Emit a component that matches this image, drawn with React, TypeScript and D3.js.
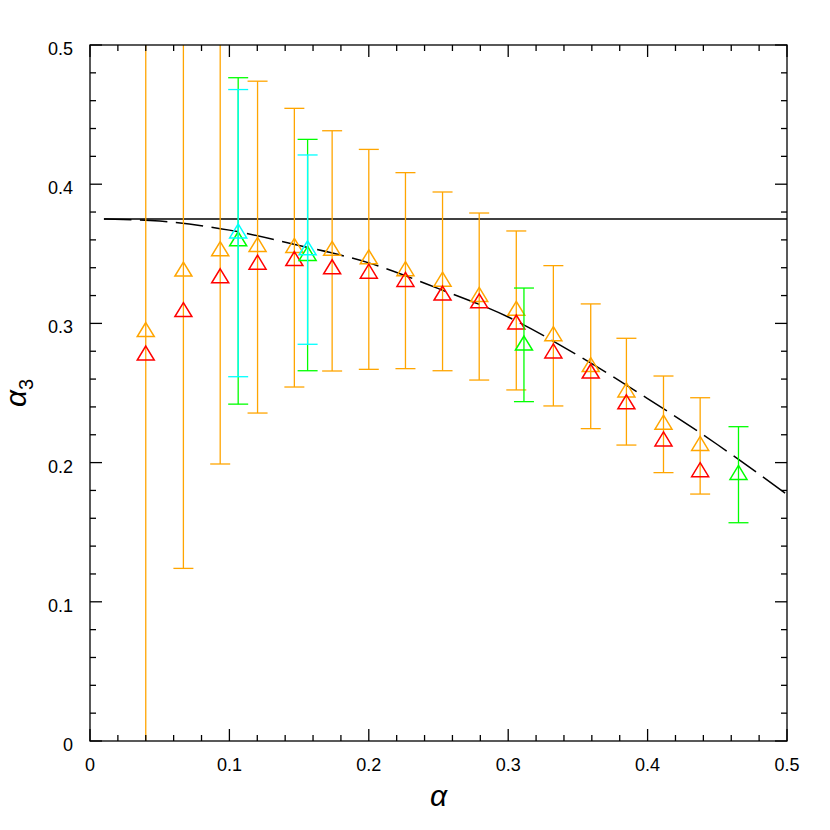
import React from "react";
import * as d3 from "d3";

const orangeX = [0.04, 0.067, 0.0934, 0.1202, 0.1466, 0.1737, 0.2, 0.2263, 0.2529, 0.2792, 0.3058, 0.3324, 0.3592, 0.3848, 0.4114, 0.4377];
const orangeY = [0.2956, 0.339, 0.3537, 0.3567, 0.356, 0.3539, 0.3478, 0.3393, 0.3318, 0.3208, 0.3108, 0.2926, 0.2704, 0.2522, 0.229, 0.2138];
const orangeHi = [0.9, 0.6, 0.55, 0.474, 0.4545, 0.4384, 0.425, 0.4083, 0.3944, 0.3793, 0.3664, 0.3415, 0.314, 0.2893, 0.2622, 0.2466];
const orangeLo = [-0.3, 0.124, 0.199, 0.2356, 0.2543, 0.2658, 0.267, 0.2675, 0.266, 0.2593, 0.2522, 0.2407, 0.2244, 0.2126, 0.1928, 0.1774];

const redY = [0.2787, 0.3099, 0.3342, 0.344, 0.3466, 0.3407, 0.3375, 0.3316, 0.3218, 0.3162, 0.301, 0.2802, 0.2658, 0.2437, 0.217, 0.1949];

const greenX = [0.1063, 0.1561, 0.3113, 0.4652];
const greenY = [0.3608, 0.3503, 0.2859, 0.1929];
const greenHi = [0.4765, 0.4322, 0.3254, 0.2258];
const greenLo = [0.242, 0.266, 0.2438, 0.1568];

const cyanX = [0.1063, 0.1561];
const cyanY = [0.3664, 0.3543];
const cyanHi = [0.468, 0.421];
const cyanLo = [0.2617, 0.285];

const curveX = [0.01, 0.05, 0.1, 0.15, 0.2, 0.25, 0.3, 0.35, 0.4, 0.45, 0.5];
const curveY = [0.375, 0.3735, 0.367, 0.356, 0.3435, 0.325, 0.3046, 0.277, 0.246, 0.213, 0.177];

const flatX = [0.01, 0.5];
const flatY = [0.375, 0.375];

const xTickLabels = ["0", "0.1", "0.2", "0.3", "0.4", "0.5"];
const yTickLabels = ["0", "0.1", "0.2", "0.3", "0.4", "0.5"];

const L = 90, R = 787, T = 45, B = 741;
const FONT = "'Liberation Sans', Arial, Helvetica, sans-serif";

export default function App() {
  const x = d3.scaleLinear().domain([0, 0.5]).range([L, R]);
  const y = d3.scaleLinear().domain([0, 0.5]).range([B, T]);
  const minor = d3.range(0, 0.5001, 0.02);
  const major = d3.range(0, 0.5001, 0.1);

  const line = d3.line<[number, number]>().x(d => x(d[0])).y(d => y(d[1]));
  const curveLine = d3.line<[number, number]>().x(d => x(d[0])).y(d => y(d[1])).curve(d3.curveMonotoneX);

  const tri = (cx: number, cy: number, color: string, key: string) => (
    <path key={key} d={`M${cx},${cy - 7} L${cx + 8.5},${cy + 7} L${cx - 8.5},${cy + 7} Z`} fill="none" stroke={color} strokeWidth={1.5} />
  );
  const errBar = (xv: number, lo: number, hi: number, color: string, key: string) => {
    const cx = x(xv);
    return (
      <g key={key} stroke={color} strokeWidth={1.3}>
        <line x1={cx} x2={cx} y1={y(lo)} y2={y(hi)} />
        <line x1={cx - 10} x2={cx + 10} y1={y(lo)} y2={y(lo)} />
        <line x1={cx - 10} x2={cx + 10} y1={y(hi)} y2={y(hi)} />
      </g>
    );
  };

  return (
    <svg width={830} height={830} style={{ position: "absolute", left: 0, top: 0 }}>
      <rect width={830} height={830} fill="white" />
      <defs>
        <clipPath id="plot">
          <rect x={L} y={T} width={R - L} height={B - T} />
        </clipPath>
      </defs>
      <g clipPath="url(#plot)">
        <path d={line(flatX.map((v, i) => [v, flatY[i]]) as any) || ""} fill="none" stroke="black" strokeWidth={1.3} />
        <path d={curveLine(curveX.map((v, i) => [v, curveY[i]]) as any) || ""} fill="none" stroke="black" strokeWidth={1.5} strokeDasharray="27.5 8.5" />
        {orangeX.map((v, i) => errBar(v, orangeLo[i], orangeHi[i], "#FFA500", "oe" + i))}
        {orangeX.map((v, i) => tri(x(v), y(orangeY[i]), "#FFA500", "ot" + i))}
        {orangeX.map((v, i) => tri(x(v), y(redY[i]), "#FF0000", "rt" + i))}
        {greenX.map((v, i) => errBar(v, greenLo[i], greenHi[i], "#00FF00", "ge" + i))}
        {greenX.map((v, i) => tri(x(v), y(greenY[i]), "#00FF00", "gt" + i))}
        {cyanX.map((v, i) => errBar(v, cyanLo[i], cyanHi[i], "#00FFFF", "ce" + i))}
        {cyanX.map((v, i) => tri(x(v), y(cyanY[i]), "#00FFFF", "ct" + i))}
      </g>
      <g stroke="black" strokeWidth={1.3}>
        {minor.map((v, i) => {
          const isMajor = Math.abs(v * 10 - Math.round(v * 10)) < 1e-6;
          const len = isMajor ? 12 : 6;
          return (
            <g key={"t" + i}>
              <line x1={x(v)} x2={x(v)} y1={B} y2={B - len} />
              <line x1={x(v)} x2={x(v)} y1={T} y2={T + len} />
              <line x1={L} x2={L + len} y1={y(v)} y2={y(v)} />
              <line x1={R} x2={R - len} y1={y(v)} y2={y(v)} />
            </g>
          );
        })}
        <rect x={L} y={T} width={R - L} height={B - T} fill="none" />
      </g>
      <g fontFamily={FONT} fontSize={18} fill="black">
        {major.map((v, i) => (
          <text key={"xl" + i} x={x(v)} y={B + 30} textAnchor="middle">{xTickLabels[i]}</text>
        ))}
        {major.map((v, i) => (
          <text key={"yl" + i} x={73} y={y(v) + 10} textAnchor="end">{yTickLabels[i]}</text>
        ))}
      </g>
      <text x={(L + R) / 2} y={806} textAnchor="middle" fontFamily={FONT} fontSize={30} fontStyle="italic">α</text>
      <text transform={`translate(26,${(T + B) / 2}) rotate(-90)`} textAnchor="middle" fontFamily={FONT} fontSize={30} fontStyle="italic">
        α<tspan fontSize={20} fontStyle="normal" dy={7}>3</tspan>
      </text>
    </svg>
  );
}
